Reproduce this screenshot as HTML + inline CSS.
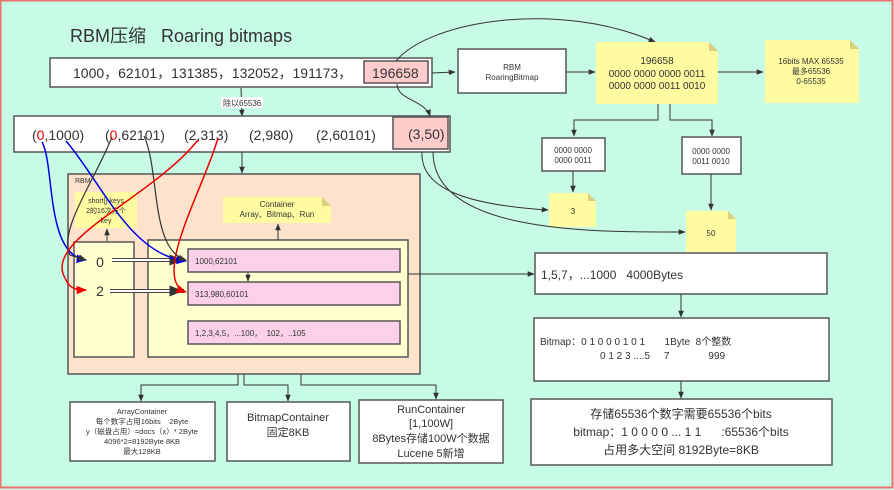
<!DOCTYPE html>
<html><head><meta charset="utf-8"><style>
body{margin:0;width:894px;height:490px;overflow:hidden;background:#c8fbe6;font-family:"Liberation Sans","Noto Sans CJK SC",sans-serif;}
svg{position:absolute;left:0;top:0}
text{font-family:"Liberation Sans","Noto Sans CJK SC",sans-serif;fill:#333;white-space:pre}
</style></head><body>
<svg width="894" height="490" viewBox="0 0 894 490" xml:space="preserve">
<defs>
<marker id="a" viewBox="0 0 10 10" refX="9" refY="5" markerWidth="7" markerHeight="7" orient="auto"><path d="M0,1L10,5L0,9z" fill="#333"/></marker>
<marker id="ar" viewBox="0 0 10 10" refX="9" refY="5" markerWidth="7" markerHeight="7" orient="auto"><path d="M0,1L10,5L0,9z" fill="#e00"/></marker>
<marker id="ab" viewBox="0 0 10 10" refX="9" refY="5" markerWidth="7" markerHeight="7" orient="auto"><path d="M0,1L10,5L0,9z" fill="#00e"/></marker>
</defs>
<rect x="0.5" y="0.5" width="892" height="487" fill="none" stroke="#f07070" stroke-width="2"/>
<text x="70" y="42" font-size="18">RBM压缩   Roaring bitmaps</text>
<rect x="50" y="58" width="382" height="29" fill="#fff" stroke="#555" stroke-width="1.5"/>
<text x="73" y="78" font-size="14">1000，62101，131385，132052，191173，</text>
<rect x="364" y="61" width="64" height="22" fill="#fcc" stroke="#555" stroke-width="1.5"/>
<text x="372" y="78" font-size="14">196658</text>
<path d="M241,88 L242,116" stroke="#333" fill="none" marker-end="url(#a)"/>
<rect x="221" y="97" width="42" height="11" fill="#fff"/>
<text x="223" y="106" font-size="8">除以65536</text>
<rect x="14" y="116" width="436" height="36" fill="#fff" stroke="#555" stroke-width="1.5"/>
<text x="32" y="140" font-size="14">(<tspan fill="#e00">0</tspan>,1000)</text>
<text x="105" y="140" font-size="14">(<tspan fill="#e00">0</tspan>,62101)</text>
<text x="184" y="140" font-size="14">(2,313)</text>
<text x="249" y="140" font-size="14">(2,980)</text>
<text x="316" y="140" font-size="14">(2,60101)</text>
<rect x="393" y="117" width="55" height="32" fill="#fcc" stroke="#555" stroke-width="1.5"/>
<text x="408" y="139" font-size="14">(3,50)</text>
<path d="M432,73 L455,72" stroke="#333" fill="none" marker-end="url(#a)"/>
<path d="M396,61 C430,20 560,0 655,42" stroke="#333" fill="none" marker-end="url(#a)"/>
<path d="M397,84 C397,100 425,100 430,116" stroke="#333" fill="none" marker-end="url(#a)"/>
<path d="M566,72 L595,72" stroke="#333" fill="none" marker-end="url(#a)"/>
<path d="M718,72 L763,72" stroke="#333" fill="none" marker-end="url(#a)"/>
<rect x="458" y="49" width="108" height="44" fill="#fff" stroke="#555" stroke-width="1.5"/>
<text x="512" y="70" font-size="8" text-anchor="middle">RBM</text>
<text x="512" y="80" font-size="8" text-anchor="middle">RoaringBitmap</text>
<path d="M596,42 H709 L718,51 V104 H596Z" fill="#fefba0"/><path d="M709,42 L718,51 H709Z" fill="#d8d080"/>
<text x="657" y="64" font-size="10" text-anchor="middle">196658</text>
<text x="657" y="77" font-size="10" text-anchor="middle">0000 0000 0000 0011</text>
<text x="657" y="89" font-size="10" text-anchor="middle">0000 0000 0011 0010</text>
<path d="M765,40 H850 L859,49 V103 H765Z" fill="#fefba0"/><path d="M850,40 L859,49 H850Z" fill="#d8d080"/>
<text x="811" y="64" font-size="8" text-anchor="middle">16bits MAX 65535</text>
<text x="811" y="74" font-size="8" text-anchor="middle">最多65536</text>
<text x="811" y="84" font-size="8" text-anchor="middle">0-65535</text>
<path d="M658,104 V120 H574 V136" stroke="#333" fill="none" marker-end="url(#a)"/>
<path d="M670,104 V120 H712 V136" stroke="#333" fill="none" marker-end="url(#a)"/>
<rect x="542" y="138" width="63" height="33" fill="#fff" stroke="#555" stroke-width="1.5"/>
<text x="573" y="153" font-size="8" text-anchor="middle">0000 0000</text>
<text x="573" y="163" font-size="8" text-anchor="middle">0000 0011</text>
<rect x="682" y="137" width="59" height="37" fill="#fff" stroke="#555" stroke-width="1.5"/>
<text x="711" y="154" font-size="8" text-anchor="middle">0000 0000</text>
<text x="711" y="164" font-size="8" text-anchor="middle">0011 0010</text>
<path d="M573,171 L573,192" stroke="#333" fill="none" marker-end="url(#a)"/>
<path d="M711,174 L711,210" stroke="#333" fill="none" marker-end="url(#a)"/>
<path d="M549,193 H588 L596,201 V227 H549Z" fill="#fefba0"/><path d="M588,193 L596,201 H588Z" fill="#d8d080"/>
<text x="573" y="214" font-size="8" text-anchor="middle">3</text>
<path d="M686,211 H728 L736,219 V252 H686Z" fill="#fefba0"/><path d="M728,211 L736,219 H728Z" fill="#d8d080"/>
<text x="711" y="236" font-size="8" text-anchor="middle">50</text>
<path d="M422,152 C420,190 470,205 548,210" stroke="#333" fill="none" marker-end="url(#a)"/>
<path d="M433,152 C433,235 600,232 685,232" stroke="#333" fill="none" marker-end="url(#a)"/>
<path d="M242,152 L242,173" stroke="#333" fill="none" marker-end="url(#a)"/>
<rect x="68" y="174" width="352" height="200" fill="#fde3cc" stroke="#555" stroke-width="1.5"/>
<text x="75" y="183" font-size="7">RBM</text>
<rect x="75" y="192" width="62" height="36" fill="#fefba0"/>
<text x="106" y="203" font-size="7" text-anchor="middle">short[] keys</text>
<text x="106" y="213" font-size="7" text-anchor="middle">2的16次方个</text>
<text x="106" y="223" font-size="7" text-anchor="middle">key</text>
<path d="M223,197 H322 L331,206 V223 H223Z" fill="#fefba0"/><path d="M322,197 L331,206 H322Z" fill="#d8d080"/>
<text x="277" y="207" font-size="8" text-anchor="middle">Container</text>
<text x="277" y="217" font-size="8" text-anchor="middle">Array、Bitmap、Run</text>
<rect x="74" y="242" width="60" height="115" fill="#ffffd0" stroke="#555" stroke-width="1.5"/>
<rect x="148" y="240" width="260" height="117" fill="#ffffd0" stroke="#555" stroke-width="1.5"/>
<path d="M107,241 L107,229" stroke="#333" fill="none" marker-end="url(#a)"/>
<path d="M278,240 L278,224" stroke="#333" fill="none" marker-end="url(#a)"/>
<rect x="188" y="249" width="212" height="23" fill="#fcd0e8" stroke="#555" stroke-width="1.5"/>
<rect x="188" y="282" width="212" height="23" fill="#fcd0e8" stroke="#555" stroke-width="1.5"/>
<rect x="188" y="321" width="212" height="23" fill="#fcd0e8" stroke="#555" stroke-width="1.5"/>
<text x="195" y="264" font-size="8">1000,62101</text>
<text x="195" y="297" font-size="8">313,980,60101</text>
<text x="195" y="336" font-size="8">1,2,3,4,5，...100，  102，..105</text>
<path d="M248,272 L248,281" stroke="#333" fill="none" marker-end="url(#a)"/>
<text x="100" y="267" font-size="14" text-anchor="middle">0</text>
<text x="100" y="296" font-size="14" text-anchor="middle">2</text>
<path d="M112,260 H184" stroke="#444" stroke-width="4" fill="none"/><path d="M112,260 H182" stroke="#fff" stroke-width="2" fill="none" marker-end="url(#a)"/>
<path d="M110,291 H184" stroke="#444" stroke-width="4" fill="none"/><path d="M110,291 H182" stroke="#fff" stroke-width="2" fill="none" marker-end="url(#a)"/>
<path d="M42,142 C55,165 45,255 86,260" stroke="#00e" stroke-width="1.5" fill="none" marker-end="url(#ab)"/>
<path d="M66,141 C100,180 130,255 186,261" stroke="#00e" stroke-width="1.5" fill="none" marker-end="url(#ab)"/>
<path d="M112,137 C95,180 58,230 70,255 L86,260" stroke="#333" stroke-width="1.2" fill="none" marker-end="url(#a)"/>
<path d="M144,136 C160,170 150,250 186,260" stroke="#333" stroke-width="1.2" fill="none" marker-end="url(#a)"/>
<path d="M198,140 C150,200 40,240 66,280 C70,290 80,290 86,290" stroke="#e00" stroke-width="1.5" fill="none" marker-end="url(#ar)"/>
<path d="M218,138 C205,185 150,280 186,292" stroke="#e00" stroke-width="1.5" fill="none" marker-end="url(#ar)"/>
<path d="M238,374 V385 H141 V401" stroke="#333" fill="none" marker-end="url(#a)"/>
<path d="M244,374 V385 H288 V401" stroke="#333" fill="none" marker-end="url(#a)"/>
<path d="M301,374 V385 H436 V399" stroke="#333" fill="none" marker-end="url(#a)"/>
<rect x="70" y="402" width="145" height="59" fill="#fff" stroke="#555" stroke-width="1.5"/>
<text x="142" y="414" font-size="7.5" text-anchor="middle">ArrayContainer</text>
<text x="142" y="424" font-size="7.5" text-anchor="middle">每个数字占用16bits    2Byte</text>
<text x="142" y="434" font-size="7.5" text-anchor="middle">y（磁盘占用）=docs（x）* 2Byte</text>
<text x="142" y="444" font-size="7.5" text-anchor="middle">4096*2=8192Byte 8KB</text>
<text x="142" y="454" font-size="7.5" text-anchor="middle">最大128KB</text>
<rect x="227" y="402" width="123" height="59" fill="#fff" stroke="#555" stroke-width="1.5"/>
<text x="288" y="421" font-size="11" text-anchor="middle">BitmapContainer</text>
<text x="288" y="436" font-size="11" text-anchor="middle">固定8KB</text>
<rect x="359" y="400" width="144" height="63" fill="#fff" stroke="#555" stroke-width="1.5"/>
<text x="431" y="413" font-size="11" text-anchor="middle">RunContainer</text>
<text x="431" y="427" font-size="11" text-anchor="middle">[1,100W]</text>
<text x="431" y="442" font-size="11" text-anchor="middle">8Bytes存储100W个数据</text>
<text x="431" y="457" font-size="11" text-anchor="middle">Lucene 5新增</text>
<path d="M408,274 L534,274" stroke="#333" fill="none" marker-end="url(#a)"/>
<rect x="535" y="253" width="292" height="41" fill="#fff" stroke="#555" stroke-width="1.5"/>
<text x="541" y="279" font-size="12">1,5,7，...1000   4000Bytes</text>
<path d="M681,294 L681,317" stroke="#333" fill="none" marker-end="url(#a)"/>
<rect x="534" y="318" width="295" height="63" fill="#fff" stroke="#555" stroke-width="1.5"/>
<text x="540" y="345" font-size="10">Bitmap：0 1 0 0 0 1 0 1       1Byte  8个整数</text>
<text x="600" y="359" font-size="10">0 1 2 3 ....5     7              999</text>
<path d="M681,381 L681,398" stroke="#333" fill="none" marker-end="url(#a)"/>
<rect x="531" y="399" width="301" height="66" fill="#fff" stroke="#555" stroke-width="1.5"/>
<text x="681" y="418" font-size="12" text-anchor="middle">存储65536个数字需要65536个bits</text>
<text x="681" y="436" font-size="12" text-anchor="middle">bitmap：1 0 0 0 0 ... 1 1      :65536个bits</text>
<text x="681" y="454" font-size="12" text-anchor="middle">占用多大空间 8192Byte=8KB</text>
</svg>
</body></html>
